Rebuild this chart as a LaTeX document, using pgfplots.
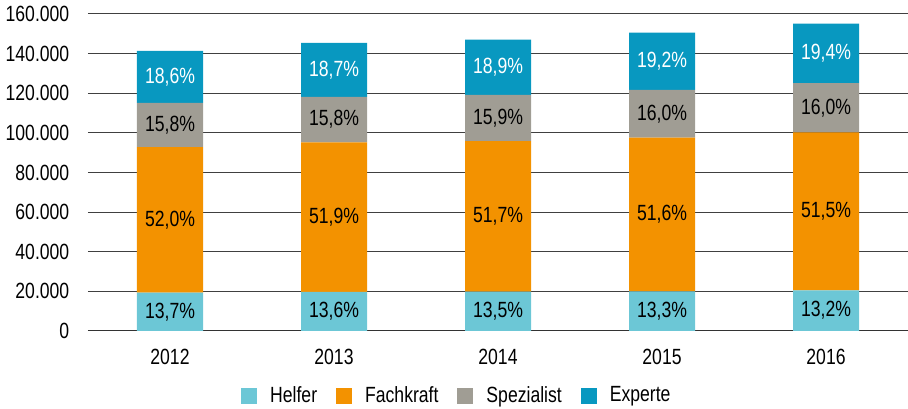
\documentclass[border=0pt]{standalone}
\usepackage{fontspec}
\setmainfont[FakeStretch=0.8]{Liberation Sans}
\usepackage{pgfplots}
\pgfplotsset{compat=1.18}
\definecolor{cHelfer}{RGB}{108,199,214}
\definecolor{cFach}{RGB}{243,146,0}
\definecolor{cSpez}{RGB}{160,157,148}
\definecolor{cExp}{RGB}{8,152,192}
\begin{document}
\fontsize{11pt}{13pt}\selectfont
\begin{tikzpicture}
\begin{axis}[
  scale only axis, width=410pt, height=158.5pt,
  ybar stacked, bar width=33pt,
  xmin=-0.5, xmax=4.5, ymin=0, ymax=160,
  xtick={0,1,2,3,4}, xticklabels={2012,2013,2014,2015,2016},
  ytick={0,20,40,60,80,100,120,140,160},
  yticklabels={0,20.000,40.000,60.000,80.000,100.000,120.000,140.000,160.000},
  ymajorgrids, major grid style={black!75, line width=0.5pt},
  axis line style={draw=none}, tick style={draw=none},
  major tick length=0pt,
  yticklabel style={xshift=-5.5pt},
  xticklabel style={yshift=-5pt},
  point meta=explicit symbolic,
  nodes near coords,
  every node near coord/.append style={anchor=center, font=\fontsize{11pt}{13pt}\selectfont},
  legend style={at={(axis description cs:0.451,0)}, anchor=center, yshift=-32.5pt, draw=none, fill=none,
     legend columns=4, /tikz/every odd column/.append style={column sep=4.5pt},
     /tikz/every even column/.append style={column sep=7.5pt},
     font=\fontsize{11pt}{13pt}\selectfont},
  legend image code/.code={\fill[#1,draw=none] (0pt,-4pt) rectangle (8pt,4pt);},
]
% values in thousands of persons
\addplot[fill=cHelfer, draw=none, every node near coord/.append style={text=black}] coordinates {
  (0,19.358)[13,7\%] (1,19.774)[13,6\%] (2,19.845)[13,5\%] (3,20.003)[13,3\%] (4,20.460)[13,2\%]};
\addplot[fill=cFach, draw=none, every node near coord/.append style={text=black}] coordinates {
  (0,73.476)[52,0\%] (1,75.463)[51,9\%] (2,75.999)[51,7\%] (3,77.606)[51,6\%] (4,79.825)[51,5\%]};
\addplot[fill=cSpez, draw=none, every node near coord/.append style={text=black}] coordinates {
  (0,22.325)[15,8\%] (1,22.973)[15,8\%] (2,23.373)[15,9\%] (3,24.064)[16,0\%] (4,24.800)[16,0\%]};
\addplot[fill=cExp, draw=none, every node near coord/.append style={text=white}] coordinates {
  (0,26.282)[18,6\%] (1,27.190)[18,7\%] (2,27.783)[18,9\%] (3,28.877)[19,2\%] (4,30.070)[19,4\%]};
\legend{Helfer, Fachkraft, Spezialist, Experte}
\draw[black!80, line width=1pt] (rel axis cs:0,0) -- (rel axis cs:1,0);
\coordinate (bl) at (rel axis cs:0,0);
\coordinate (tr) at (rel axis cs:1,1);
\end{axis}
\pgfresetboundingbox
\path[use as bounding box] ([shift={(-44pt,-39pt)}]bl) rectangle ([shift={(0pt,7pt)}]tr);
\end{tikzpicture}
\end{document}
